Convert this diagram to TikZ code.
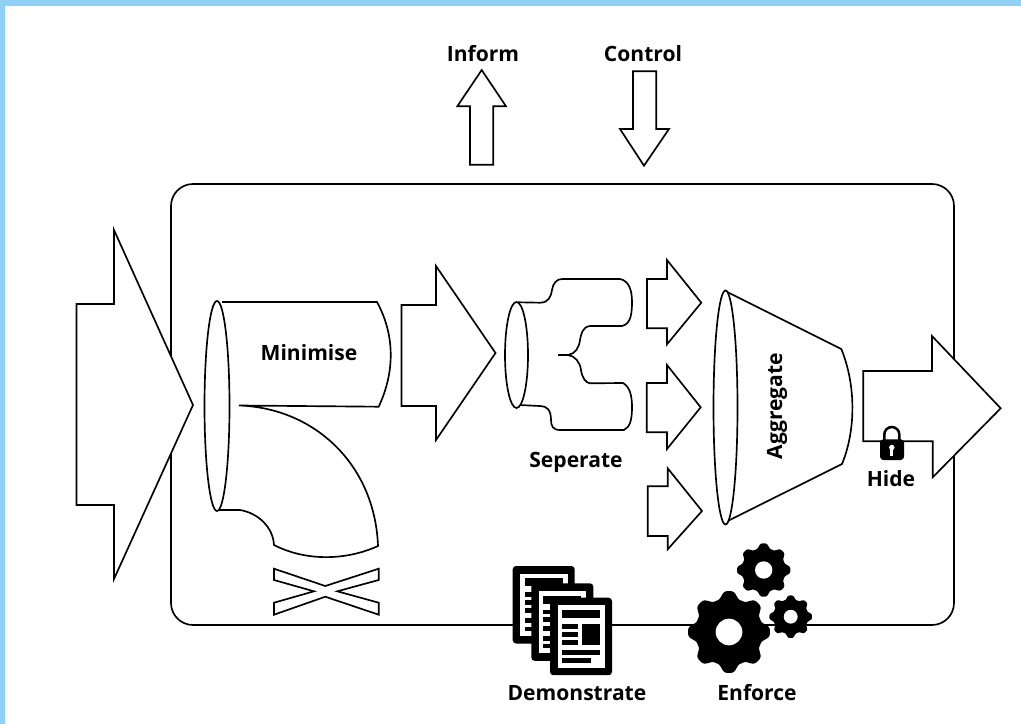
\documentclass[tikz,border=0pt]{standalone}
\usepackage{fontspec}
\setmainfont{Open Sans}
\definecolor{frameblue}{HTML}{90D0F4}
\tikzset{
  shp/.style={draw=black,line width=1.25pt,fill=white,line join=miter},
  ln/.style={draw=black,line width=1.25pt},
  lab/.style={font=\bfseries\fontsize{15.8}{18}\selectfont,text=black,inner sep=0pt},
  pics/docicon/.style={code={
    \fill[black,rounded corners=2.5] (0,0) rectangle (62,77.5);
    \fill[white] (7.5,7.5) rectangle (55,70);
    \fill[black] (12,12.3) rectangle (50,20.3);
    \fill[black] (12,26.3) rectangle (28,31);
    \fill[black] (12,34) rectangle (28,39);
    \fill[black] (12,42.3) rectangle (28,47.3);
    \fill[black] (32.3,26.3) rectangle (50,47.3);
    \fill[black] (12,52.3) rectangle (50,57.3);
    \fill[black] (12,60.6) rectangle (41,65);
  }},
  pics/gearicon/.style={code={
    \fill[black,samples=361,domain=0:360,smooth] plot ({#1*(0.91+0.09*(1.1*cos(8*\x)-0.12*cos(24*\x)))*sin(\x)},{#1*(0.91+0.09*(1.1*cos(8*\x)-0.12*cos(24*\x)))*cos(\x)}) -- cycle;
    \fill[white] (0,0) circle ({#1*0.325});
  }}
}
\begin{document}
\begin{tikzpicture}[x=0.75pt,y=-0.75pt]
\useasboundingbox (0,0) rectangle (1021,724);
\fill[frameblue] (0,0) rectangle (1021,724);
\fill[white] (5,6) rectangle (1021,724);

% system boundary
\draw[ln,rounded corners=16.5pt] (171,184) rectangle (954,625);

% control flows
\draw[shp] (470,164.7) -- (493.3,164.7) -- (493.3,106.3) -- (506,106.3) -- (481.7,70) -- (457.3,106.3) -- (470,106.3) -- cycle;
\draw[shp] (633,71.3) -- (656.3,71.3) -- (656.3,129) -- (669,129) -- (644,165.7) -- (620,129) -- (633,129) -- cycle;
\node[lab] (inform) at (483,54) {Inform};
\node[lab] (control) at (643,54) {Control};

% input arrow
\draw[shp] (76.5,304) -- (114,304) -- (114,230) -- (193,405) -- (114,579) -- (114,505) -- (76.5,505) -- cycle;

% minimise pipes: white bodies, then outlines
\fill[white] (218,510) -- (240,510) .. controls (258,513) and (273,527) .. (274,545)
  .. controls (305,561) and (345,561) .. (378,546)
  .. controls (375,465) and (315,408) .. (239,405.5) -- (217,405) -- cycle;
\fill[white] (222,302) -- (377,302) .. controls (395,335) and (395,372) .. (378.7,406.7) -- (217,405) -- cycle;
\draw[ln] (218,510) -- (240,510) .. controls (258,513) and (273,527) .. (274,545)
  .. controls (305,561) and (345,561) .. (378,546)
  .. controls (375,465) and (315,408) .. (239,405.5) -- (378.7,406.7)
  .. controls (395,372) and (395,335) .. (377,302) -- (222,302);
\draw[shp] (217,406) ellipse (12.5 and 105);
\node[lab] (minimise) at (309,353) {Minimise};

% blocked flow
\draw[shp] (274,568.7) -- (325.3,586) -- (378.7,568.7) -- (378.7,580) -- (337.3,591.3) -- (378.7,602.7) -- (378.7,614.7) -- (325.3,596.7) -- (274,614.7) -- (274,602.7) -- (314,591.3) -- (274,580) -- cycle;

% middle arrow
\draw[shp] (401.5,305) -- (436,305) -- (436,266) -- (495.5,353) -- (436,440) -- (436,406) -- (401.5,406) -- cycle;

% separate
\draw[ln,fill=white] (519,302.3) -- (540,302.7) .. controls (549,302.7) and (551,296) .. (552,290)
  .. controls (553,283) and (557,279) .. (562,279) -- (620,279)
  .. controls (629,281) and (632,290) .. (632,302)
  .. controls (632,316) and (630,324) .. (622,326) -- (590,326)
  .. controls (582,327) and (581,335) .. (580,340)
  .. controls (579,348) and (575,354) .. (568,355)
  .. controls (575,356) and (580,362) .. (581,370)
  .. controls (582,378) and (586,383) .. (590,383.3) -- (623,383)
  .. controls (630,387) and (632,396) .. (632,407)
  .. controls (632,420) and (630,427) .. (624,430) -- (560,430)
  .. controls (553,430) and (551,426) .. (551,420)
  .. controls (551,410) and (547,406) .. (540,406) -- (519,405) -- cycle;
\draw[ln] (558,355) -- (568,355);
\draw[shp] (516.5,355) ellipse (11.5 and 53);
\node[lab] (seperate) at (576,462.5) {Seperate};

% output arrows of separate
\draw[shp] (647,279) -- (667,279) -- (667,260) -- (701.3,302.7) -- (667,344.3) -- (667,328.3) -- (647,328.3) -- cycle;
\draw[shp] (646.7,383) -- (667,383) -- (667,365) -- (700.7,407.3) -- (667,449) -- (667,432.3) -- (646.7,432.3) -- cycle;
\draw[shp] (647.7,486.3) -- (667.7,486.3) -- (667.7,468.3) -- (702,511) -- (667.7,549.3) -- (667.7,536) -- (647.7,536) -- cycle;

% aggregate
\draw[shp] (725.3,291) -- (841.3,349) .. controls (856,385) and (856,430) .. (842,464) -- (728.3,520.7) -- cycle;
\draw[shp] (725.5,407.5) ellipse (12 and 117);
\node[lab,rotate=90] (aggregate) at (777,406) {Aggregate};

% output arrow
\draw[shp] (863.3,371) -- (932,371) -- (932,336) -- (1000.7,408.3) -- (932.7,477.3) -- (932.7,441.3) -- (863.3,441.3) -- cycle;

% lock
\draw[black,line width=1.9pt] (884.3,441) -- (884.3,434.5) arc[start angle=180,end angle=360,x radius=7.5,y radius=7.5] -- (899.3,441);
\fill[black,rounded corners=2.5] (880,439.3) rectangle (904,460);
\fill[white] (891.8,447.5) circle (2.7);
\fill[white] (890.4,447.5) rectangle (893.2,456);
\node[lab] (hide) at (891,479) {Hide};

% documents
\pic at (512.7,566) {docicon};
\pic at (531.3,583.3) {docicon};
\pic at (550,597.7) {docicon};
\node[lab] (demonstrate) at (577,693) {Demonstrate};

% gears
\pic at (729,632) {gearicon=41};
\pic at (763.7,570) {gearicon=26.7};
\pic at (790.7,616.7) {gearicon=21.3};
\node[lab] (enforce) at (757,693) {Enforce};
\end{tikzpicture}
\end{document}
